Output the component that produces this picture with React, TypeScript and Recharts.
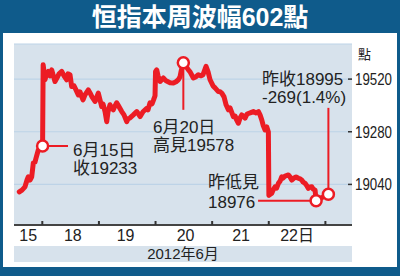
import React from 'react';
import { LineChart, Line, XAxis, YAxis, CartesianGrid, ReferenceDot, ReferenceLine } from 'recharts';

// position in trading days (0 = start of plotted span, day boundaries at .5)
const times = [
  0.094, 0.141, 0.194, 0.23, 0.253, 0.283, 0.313, 0.341, 0.371, 0.389, 0.429, 0.46, 0.505,
  0.515, 0.548, 0.574, 0.606, 0.636, 0.666, 0.689, 0.724, 0.76, 0.795, 0.843, 0.883, 0.931, 0.954, 0.989,
  1.019, 1.06, 1.095, 1.136, 1.166, 1.196, 1.219, 1.254, 1.313, 1.343, 1.378, 1.431, 1.458, 1.489, 1.519,
  1.549, 1.572, 1.608, 1.638, 1.661, 1.696, 1.723, 1.754, 1.784, 1.814, 1.846, 1.903, 1.943, 1.991,
  2.014, 2.049, 2.108, 2.168, 2.199, 2.226, 2.279, 2.345, 2.367, 2.403, 2.438, 2.465, 2.491,
  2.5, 2.521, 2.544, 2.58, 2.638, 2.686, 2.756, 2.815, 2.862, 2.903, 2.933, 2.951, 2.991,
  3.03, 3.08, 3.11, 3.168, 3.216, 3.256, 3.304, 3.339, 3.392, 3.428, 3.463, 3.516, 3.551,
  3.61, 3.64, 3.67, 3.71, 3.746, 3.786, 3.816, 3.874, 3.905, 3.931, 3.963, 3.993,
  4.023, 4.046, 4.081, 4.117, 4.17, 4.228, 4.276, 4.317, 4.346, 4.376, 4.399, 4.435, 4.465, 4.493,
  4.502, 4.553, 4.576, 4.611, 4.638, 4.67, 4.7, 4.73, 4.753, 4.788, 4.846, 4.876, 4.906, 4.947, 4.982,
  5.023, 5.053, 5.083, 5.106, 5.141, 5.177, 5.2, 5.23, 5.26, 5.283, 5.318, 5.336, 5.553,
];

const hsi = [
  19006, 19014, 19029, 19060, 19075, 19060, 19075, 19138, 19142, 19160, 19197, 19200, 19215,
  19585, 19517, 19544, 19555, 19535, 19562, 19540, 19509, 19526, 19544, 19555, 19535, 19517, 19544, 19540,
  19486, 19489, 19471, 19448, 19462, 19440, 19425, 19448, 19471, 19457, 19439, 19418, 19435, 19456, 19425,
  19395, 19407, 19372, 19326, 19371, 19403, 19389, 19380, 19398, 19412, 19398, 19372, 19357, 19326,
  19339, 19343, 19357, 19372, 19361, 19349, 19371, 19387, 19380, 19412, 19407, 19425, 19444,
  19555, 19562, 19535, 19509, 19525, 19512, 19503, 19502, 19508, 19517, 19531, 19555, 19595,
  19581, 19562, 19553, 19525, 19531, 19540, 19535, 19540, 19578, 19553, 19517, 19489, 19480,
  19463, 19462, 19456, 19439, 19403, 19380, 19389, 19349, 19352, 19334, 19319, 19343,
  19357, 19352, 19342, 19361, 19366, 19372, 19366, 19372, 19357, 19334, 19311, 19288, 19302, 19279,
  18990, 19000, 19014, 19029, 19023, 19045, 19055, 19075, 19069, 19078, 19083, 19074, 19060, 19069, 19074,
  19068, 19065, 19060, 19051, 19045, 19032, 19022, 19028, 19029, 19019, 19014, 18966, 18995,
];

const dayBounds = [0.5, 1.5, 2.5, 3.5, 4.5, 5.5];
const dayLabelPos = [0.25, 1.04, 1.97, 3.03, 4.01, 5.0];
const dayLabels = ['15', '18', '19', '20', '21', '22日'];
const yTicks = [19040, 19280, 19520];
const xDomain = [0, 5.97];
const yDomain = [18855, 19680];

const close15 = { t: 0.505, v: 19215 };
const high20 = { t: 2.991, v: 19595 };
const low22 = { t: 5.336, v: 18966 };
const lastClose = { t: 5.553, v: 18995 };
const close15LeaderEnd = 0.954;
const high20LeaderEnd = 19380;
const low22LeaderEnd = 4.311;
const lastCloseLeaderEnd = 19389;

const data = times.map((t, i) => ({ t, v: hsi[i] }));

const RED = '#ec1c24';
const BLUE = '#0f5b8b';
const PANEL = '#d7e2ec';
const TEXT = '#222';
const FONT = '"Liberation Sans", Arial, "Noto Sans CJK TC", sans-serif';

const YTick = (props: any) => {
  const { x, y, payload } = props;
  return (
    <g>
      <line x1={x - 4} x2={x} y1={y} y2={y} stroke="#333" strokeWidth={1.5} />
      <text
        x={x + 3}
        y={y}
        dy={5.8}
        fontSize={16}
        fill={TEXT}
        fontFamily={FONT}
        textLength={37}
        lengthAdjust="spacingAndGlyphs"
      >
        {payload.value}
      </text>
    </g>
  );
};

const NoTick = () => <g />;

const note: React.CSSProperties = {
  position: 'absolute',
  fontFamily: FONT,
  fontSize: 17,
  lineHeight: '17.5px',
  color: TEXT,
  whiteSpace: 'pre',
};

export default function App() {
  return (
    <div style={{ position: 'absolute', left: 0, top: 0, width: 400, height: 276, background: BLUE, overflow: 'hidden' }}>
      <div style={{ position: 'absolute', left: 3, top: 33, width: 394, height: 234, background: '#fff' }} />
      <div
        style={{
          position: 'absolute', left: 0, top: 0, width: 400, height: 33, lineHeight: '34px', textAlign: 'center',
          color: '#fff', fontWeight: 'bold', fontSize: 25, fontFamily: '"Liberation Sans", Arial, "Noto Sans CJK TC", sans-serif',
        }}
      >
        恒指本周波幅602點
      </div>
      <div style={{ position: 'absolute', left: 0, top: 0 }}>
        <LineChart width={400} height={276} data={data} margin={{ top: 44, right: 0, bottom: 31, left: 14 }}>
          <CartesianGrid xAxisId="lab" yAxisId="v" vertical={false} fill={PANEL} stroke="#bdd3e7" strokeWidth={1.2} />
          <XAxis
            xAxisId="lab" dataKey="t" type="number" domain={xDomain} allowDataOverflow ticks={dayLabelPos}
            interval={0} tickFormatter={(val: number) => dayLabels[dayLabelPos.indexOf(val)]}
            tickLine={false} tickSize={3} tickMargin={2} height={20}
            axisLine={{ stroke: '#444', strokeWidth: 2 }}
            tick={{ fontSize: 16, fill: TEXT, fontFamily: FONT }}
          />
          <XAxis
            xAxisId="bnd" dataKey="t" type="number" domain={xDomain} allowDataOverflow ticks={dayBounds}
            interval={0} mirror axisLine={false} tickSize={4} height={10}
            tickLine={{ stroke: '#333', strokeWidth: 2 }} tick={NoTick}
          />
          <YAxis
            yAxisId="v" orientation="right" type="number" domain={yDomain} allowDataOverflow ticks={yTicks}
            interval={0} axisLine={false} tickLine={false} tickSize={0} tickMargin={0} width={48} tick={YTick}
          />
          <Line
            xAxisId="lab" yAxisId="v" dataKey="v" type="linear" stroke={RED} strokeWidth={5}
            strokeLinejoin="round" strokeLinecap="round" dot={false} isAnimationActive={false}
          />
          <ReferenceLine xAxisId="lab" yAxisId="v" stroke={RED} strokeWidth={2}
            segment={[{ x: close15.t, y: close15.v }, { x: close15LeaderEnd, y: close15.v }]} />
          <ReferenceLine xAxisId="lab" yAxisId="v" stroke={RED} strokeWidth={2}
            segment={[{ x: high20.t, y: high20.v }, { x: high20.t, y: high20LeaderEnd }]} />
          <ReferenceLine xAxisId="lab" yAxisId="v" stroke={RED} strokeWidth={2}
            segment={[{ x: low22.t, y: low22.v }, { x: low22LeaderEnd, y: low22.v }]} />
          <ReferenceLine xAxisId="lab" yAxisId="v" stroke={RED} strokeWidth={2}
            segment={[{ x: lastClose.t, y: lastClose.v }, { x: lastClose.t, y: lastCloseLeaderEnd }]} />
          {[close15, high20, low22, lastClose].map((p, i) => (
            <ReferenceDot key={i} xAxisId="lab" yAxisId="v" x={p.t} y={p.v} r={5.5}
              fill="#fff" stroke={RED} strokeWidth={2.5} />
          ))}
        </LineChart>
      </div>
      <div style={{ ...note, left: 73, top: 142 }}>{'6月15日\n收19233'}</div>
      <div style={{ ...note, left: 153, top: 119 }}>{'6月20日\n高見19578'}</div>
      <div style={{ ...note, left: 262, top: 71 }}>{'昨收18995\n-269(1.4%)'}</div>
      <div style={{ ...note, left: 208, top: 173, lineHeight: '19.5px' }}>{'昨低見\n18976'}</div>
      <div style={{ position: 'absolute', left: 358, top: 44, fontSize: 13, fontFamily: FONT, color: TEXT }}>點</div>
      <div
        style={{
          position: 'absolute', left: 14, top: 246, width: 338, height: 16, background: PANEL, textAlign: 'center',
          lineHeight: '16px', fontSize: 15, fontFamily: FONT, color: TEXT,
        }}
      >
        2012年6月
      </div>
    </div>
  );
}
